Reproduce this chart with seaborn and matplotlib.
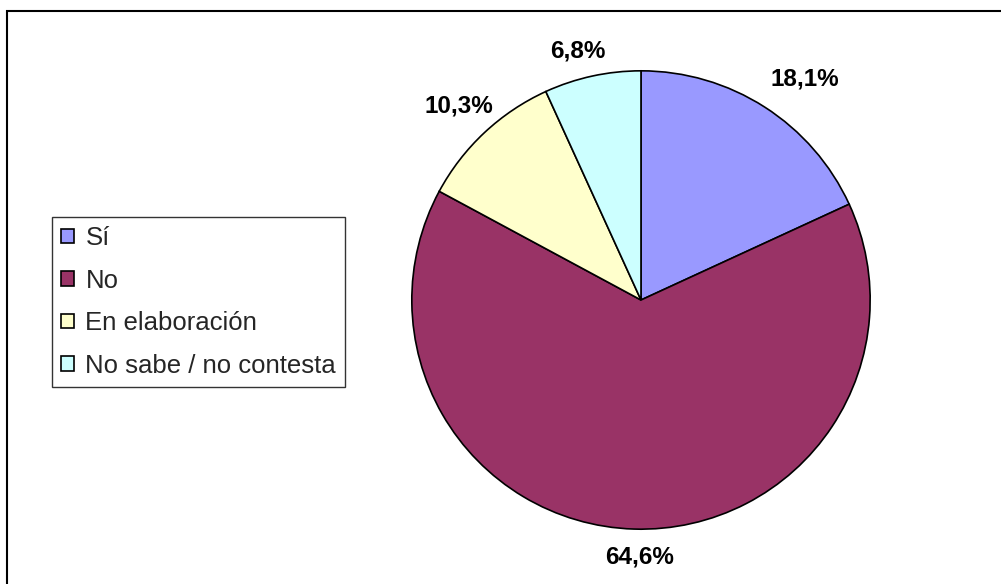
import matplotlib
matplotlib.use("Agg")
import numpy as np
import matplotlib.pyplot as plt
from matplotlib.patches import Rectangle
import seaborn as sns

# data
categories = ["Sí", "No", "En elaboración", "No sabe / no contesta"]
shares = [18.1, 64.6, 10.3, 6.8]
slice_colors = ["#9999FF", "#993366", "#FFFFCC", "#CCFFFF"]

# how far out each percentage label sits (in pie radii) and small angle nudges (deg)
label_dist = [1.2, 1.12, 1.16, 1.12]
label_nudge = [-4, 1.4, 0, 2]

sns.set_theme(style="white")
plt.rcParams['font.family'] = ['Liberation Sans', 'DejaVu Sans']

fig = plt.figure(figsize=(10.01, 5.84), dpi=100)
fig.patch.set_facecolor("white")

# pie centred near (641, 300) px, radius ~229 px
ax = fig.add_axes([0.3656, 0.0154, 0.5495, 0.9418])
palette = sns.color_palette(slice_colors)

wedges, texts, autotexts = ax.pie(
    shares,
    colors=palette,
    startangle=90,
    counterclock=False,
    radius=1.0,
    autopct="%1.1f%%",
    pctdistance=1.16,
    wedgeprops=dict(edgecolor="black", linewidth=1.2),
    textprops=dict(fontsize=17.5, fontweight="bold", color="black"),
)
# show values as read, with a decimal comma, at their own distance
for w, t, v, d, n in zip(wedges, autotexts, shares, label_dist, label_nudge):
    mid = np.deg2rad((w.theta1 + w.theta2) / 2 + n)
    t.set_text(f"{v:.1f}%".replace(".", ","))
    t.set_position((d * np.cos(mid), d * np.sin(mid)))

ax.set_xlim(-1.2, 1.2)
ax.set_ylim(-1.2, 1.2)
ax.set_aspect("equal")
ax.axis("off")

# chart area border (runs past the right and bottom edges)
fig.patches.append(Rectangle((0.007, -0.1), 1.2, 1.0812, transform=fig.transFigure,
                             fill=False, edgecolor="black", linewidth=1.5))

leg = fig.legend(
    wedges, categories,
    loc="upper left", bbox_to_anchor=(0.052, 0.6284),
    fontsize=18.5, frameon=True, fancybox=False,
    handlelength=0.5, handleheight=0.5, handletextpad=0.45,
    labelspacing=0.72, borderpad=0.35, borderaxespad=0,
)
leg.get_frame().set_edgecolor("black")
leg.get_frame().set_linewidth(1.0)

fig.savefig("out.png", dpi=100, facecolor="white")
